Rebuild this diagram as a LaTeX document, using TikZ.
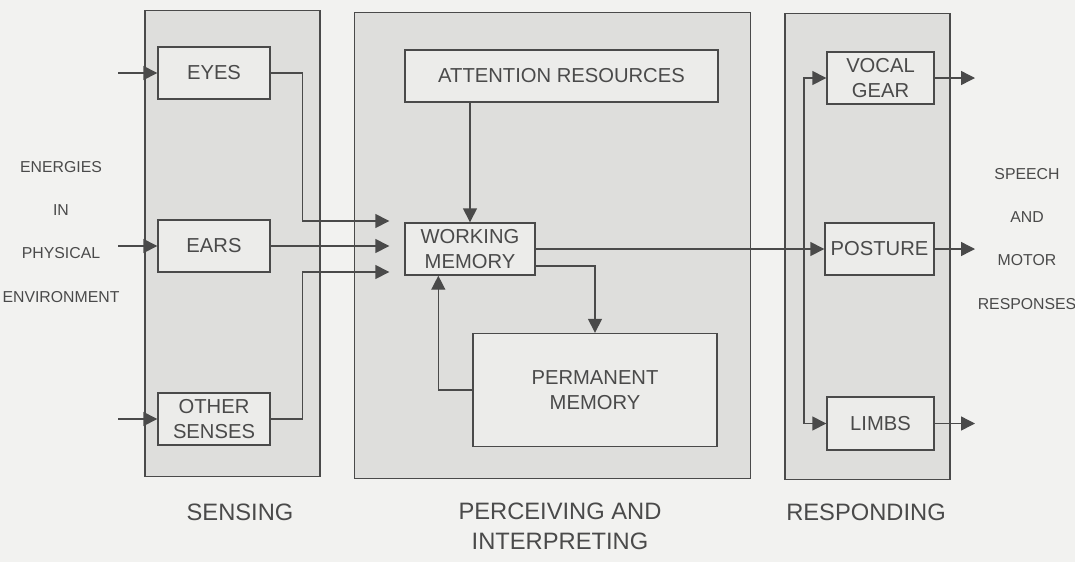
\documentclass[tikz,border=0pt]{standalone}
\usepackage{fontspec}
\setmainfont{Liberation Sans}
\usetikzlibrary{positioning,calc,arrows.meta}
\definecolor{paper}{HTML}{F2F2F0}
\definecolor{panel}{HTML}{DEDEDC}
\definecolor{boxfill}{HTML}{ECECEA}
\definecolor{ink}{HTML}{4A4A4A}

\begin{document}
\begin{tikzpicture}[x=0.02cm,y=-0.02cm]
\tikzstyle{stage}=[rectangle, draw=ink, fill=panel, semithick, minimum height=9.34cm]
\tikzstyle{block}=[rectangle, draw=ink, fill=boxfill, thick, inner sep=1pt, minimum height=1.04cm, align=center, text=ink, font=\fontsize{11.5}{14}\selectfont]
\tikzstyle{caption}=[align=center, text=ink, font=\fontsize{13.5}{17}\selectfont]
\tikzstyle{side}=[align=center, text=ink, font=\fontsize{9}{24.5}\selectfont]
\tikzstyle{connect}=[-{Triangle[length=0.28cm,width=0.28cm]}, thick, draw=ink]
\useasboundingbox[fill=paper] (0,0) rectangle (1075,562);
	% the three stages
	\node[stage, minimum width=3.5cm] (sensing) at (232.5,243.5) {};
	\node[stage, minimum width=7.94cm] (perceiving) at (552.5,245.5) {};
	\node[stage, minimum width=3.3cm] (responding) at (867.5,246.5) {};

	\node[block, minimum width=2.24cm] (eyes) at (214,73) {EYES};
	\node[block, minimum width=2.24cm] (ears) at (214,246) {EARS};
	\node[block, minimum width=2.24cm] (senses) at (214,419) {OTHER\\SENSES};

	\node[block, minimum width=6.26cm] (attention) at (561.5,76) {ATTENTION RESOURCES};
	\node[block, minimum width=2.6cm] (working) at (470,249) {WORKING\\MEMORY};
	\node[block, minimum width=4.88cm, minimum height=2.26cm] (permanent) at (595,390) {PERMANENT\\MEMORY};

	\node[block, minimum width=2.14cm] (vocal) at (880.5,78) {VOCAL\\GEAR};
	\node[block, minimum width=2.18cm] (posture) at (879.5,249) {POSTURE};
	\node[block, minimum width=2.14cm, minimum height=1.06cm] (limbs) at (880.5,423.5) {LIMBS};

	\node[caption] (senselabel) at (240,512) {SENSING};
	\node[caption] (perclabel) at (560,526) {PERCEIVING AND\\INTERPRETING};
	\node[caption] (resplabel) at (866,512) {RESPONDING};

	\node[side] (energies) at (61,232) {ENERGIES\\IN\\PHYSICAL\\ENVIRONMENT};
	\node[side] (speech) at (1027,239) {SPEECH\\AND\\MOTOR\\RESPONSES};

	\coordinate (in-eyes) at (118,73);
	\coordinate (in-ears) at (118,246);
	\coordinate (in-senses) at (118,419);
	\coordinate (split) at (804,249);
	\coordinate (out-vocal) at (975,78);
	\coordinate (out-posture) at (975,249);
	\coordinate (out-limbs) at (975,423.5);

	\draw[connect] (in-eyes) -- (eyes.west);
	\draw[connect] (in-ears) -- (ears.west);
	\draw[connect] (in-senses) -- (senses.west);

	\draw[connect, shorten >=0.3cm] (eyes.east) -- ++(32,0) |- ($(working.west)+(0,-28)$);
	\draw[connect, shorten >=0.3cm] (ears.east) -- (ears.east -| working.west);
	\draw[connect, shorten >=0.3cm] (senses.east) -- ++(32,0) |- ($(working.west)+(0,23)$);

	\draw[connect] (attention.south -| working.north) -- (working.north);
	\draw[connect] (working.east) -- (posture.west);
	\draw[connect] ($(working.east)+(0,17)$) -| (permanent.north);
	\draw[connect] (permanent.west) -| ($(working.south west)+(34,0)$);

	\draw[connect] (split) |- (vocal.west);
	\draw[connect] (split) |- (limbs.west);
	\draw[connect] (vocal.east) -- (out-vocal);
	\draw[connect] (posture.east) -- (out-posture);
	\draw[connect] (limbs.east) -- (out-limbs);
\end{tikzpicture}
\end{document}
